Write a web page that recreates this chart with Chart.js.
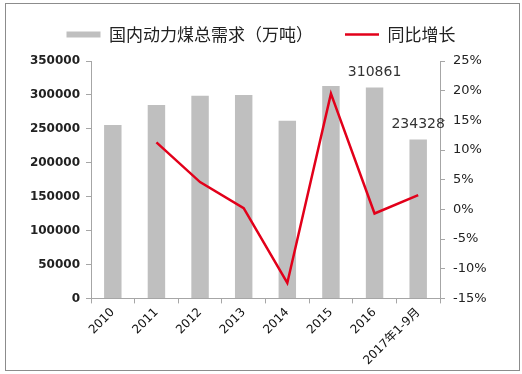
<!DOCTYPE html>
<html>
<head>
<meta charset="utf-8">
<script src="https://cdn.jsdelivr.net/npm/chart.js@4/dist/chart.umd.min.js"></script>
<style>
  body { margin: 0; background: #fff; }
  #wrap { position: relative; width: 522px; height: 374px; }
  #frame { position: absolute; left: 5px; top: 3px; width: 513px; height: 366px; border: 1px solid #8c8c8c; pointer-events: none; }
</style>
</head>
<body>
<div id="wrap">
  <canvas id="chart-combo" width="522" height="374"></canvas>
  <div id="frame"></div>
</div>
<script>
// data
const years = ["2010", "2011", "2012", "2013", "2014", "2015", "2016", "2017年1-9月"];
const demand = [255500, 285000, 298700, 299800, 261800, 313000, 310861, 234328]; // 万吨
const growth = [null, 11.3, 4.6, 0.2, -12.4, 19.5, -0.7, 2.4]; // %
const labelled = { 6: "310861", 7: "234328" }; // bars with a value printed on top

const leftTicks = { min: 0, max: 350000, step: 50000 };
const rightTicks = { min: -15, max: 25, step: 5 };

// value labels above the two last bars
const barLabels = {
  id: "barLabels",
  afterDatasetsDraw(chart) {
    const ctx = chart.ctx;
    const meta = chart.getDatasetMeta(0);
    ctx.save();
    ctx.font = "14px 'DejaVu Sans'";
    ctx.fillStyle = "#333";
    ctx.textAlign = "center";
    ctx.textBaseline = "bottom";
    Object.keys(labelled).forEach((i) => {
      const bar = meta.data[i];
      ctx.fillText(labelled[i], bar.x, bar.y - 8);
    });
    ctx.restore();
  },
};

var ctx = document.getElementById("chart-combo").getContext("2d");
var chart = new Chart(ctx, {
  plugins: [
    {
      beforeInit(chart) {
        const originalFit = chart.legend.fit;
        chart.legend.fit = function fit() {
          originalFit.bind(chart.legend)();
          this.height = 67;
        };
      },
    },
    barLabels,
  ],
  data: {
    labels: years,
    datasets: [
      {
        type: "bar",
        label: "国内动力煤总需求（万吨）",
        data: demand,
        backgroundColor: "#bfbfbf",
        borderWidth: 0,
        categoryPercentage: 1,
        barPercentage: 0.4,
        yAxisID: "y",
        pointStyle: "rect",
        order: 2,
      },
      {
        type: "line",
        label: "同比增长",
        data: growth,
        borderColor: "#e2001a",
        backgroundColor: "#e2001a",
        borderWidth: 2.5,
        pointRadius: 0,
        tension: 0,
        yAxisID: "y1",
        pointStyle: "line",
        order: 1,
      },
    ],
  },
  options: {
    responsive: false,
    animation: false,
    layout: {
      padding: { top: -6, left: 0, right: 0, bottom: 4 },
    },
    plugins: {
      legend: {
        display: true,
        position: "top",
        labels: {
          usePointStyle: true,
          pointStyleWidth: 34,
          boxHeight: 6,
          padding: 32,
          color: "#222",
          sort: (a, b) => a.datasetIndex - b.datasetIndex,
          font: {
            size: 17,
            family: "'Noto Sans CJK SC'",
          },
        },
      },
      tooltip: { enabled: false },
    },
    scales: {
      x: {
        offset: true,
        grid: {
          display: true,
          drawOnChartArea: false,
          drawTicks: true,
          tickLength: 5,
          offset: true,
          color: "#a6a6a6",
        },
        border: { color: "#a6a6a6" },
        ticks: {
          minRotation: 45,
          maxRotation: 45,
          autoSkip: false,
          padding: 2,
          color: "#111",
          font: { size: 12, family: "'DejaVu Sans', 'Noto Sans CJK SC'" },
        },
      },
      y: {
        position: "left",
        min: leftTicks.min,
        max: leftTicks.max,
        afterFit(scale) {
          scale.width = 91;
        },
        grid: {
          display: true,
          drawOnChartArea: false,
          tickLength: 5,
          color: "#a6a6a6",
        },
        border: { color: "#a6a6a6" },
        ticks: {
          stepSize: leftTicks.step,
          padding: 6,
          color: "#222",
          callback: function (value) {
            return String(value);
          },
          font: { size: 12, family: "'DejaVu Sans'", weight: "bold" },
        },
      },
      y1: {
        position: "right",
        min: rightTicks.min,
        max: rightTicks.max,
        afterFit(scale) {
          scale.width = 82;
        },
        grid: {
          display: true,
          drawOnChartArea: false,
          tickLength: 5,
          color: "#a6a6a6",
        },
        border: { color: "#a6a6a6" },
        ticks: {
          stepSize: rightTicks.step,
          padding: 8,
          color: "#222",
          callback: function (value) {
            return value + "%";
          },
          font: { size: 13, family: "'DejaVu Sans'" },
        },
      },
    },
  },
});
</script>
</body>
</html>
